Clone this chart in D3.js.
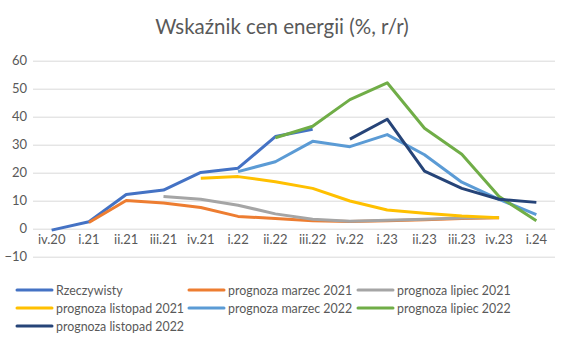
<!DOCTYPE html>
<html><head><meta charset="utf-8">
<script src="https://cdn.jsdelivr.net/npm/d3@7"></script>
<style>body{margin:0;background:#fff}svg{display:block}</style>
</head><body>
<svg id="c" width="564" height="337"></svg>
<script>
const categories = ["iv.20","i.21","ii.21","iii.21","iv.21","i.22","ii.22","iii.22","iv.22","i.23","ii.23","iii.23","iv.23","i.24"];
const yTicks = [-10,0,10,20,30,40,50,60];
const seriesNames = ["Rzeczywisty","prognoza marzec 2021","prognoza lipiec 2021","prognoza listopad 2021","prognoza marzec 2022","prognoza lipiec 2022","prognoza listopad 2022"];
const seriesColors = ["#4472C4","#ED7D31","#A5A5A5","#FFC000","#5B9BD5","#70AD47","#264478"];
const rzeczywisty   = [-0.5,2.5,12.2,13.8,20.1,21.6,32.9,35.5,null,null,null,null,null,null];
const marzec2021    = [null,2.2,10.1,9.2,7.6,4.4,3.6,2.8,2.6,2.8,3.2,3.6,3.9,null];
const lipiec2021    = [null,null,null,11.5,10.5,8.4,5.3,3.4,2.7,3.0,3.4,3.8,4.0,null];
const listopad2021  = [null,null,null,null,18.0,18.6,16.8,14.4,9.9,6.7,5.5,4.5,3.9,null];
const marzec2022    = [null,null,null,null,null,20.4,23.9,31.2,29.3,33.6,26.4,16.6,10.5,5.0];
const lipiec2022    = [null,null,null,null,null,null,32.5,36.6,46.1,52.1,35.9,26.6,11.5,2.8];
const listopad2022  = [null,null,null,null,null,null,null,null,32.0,39.1,20.6,14.4,10.5,9.4];
const seriesValues = [rzeczywisty,marzec2021,lipiec2021,listopad2021,marzec2022,lipiec2022,listopad2022];

const svg = d3.select("#c");
const font = "Lato, 'Open Sans', sans-serif";
const x = d3.scaleBand().domain(categories).range([33,555]);
const y = d3.scaleLinear().domain([-10,60]).range([256.7,60.7]);

svg.append("text").attr("x",282).attr("y",34).attr("text-anchor","middle")
  .attr("font-family",font).attr("font-size",20.5).attr("fill","#595959")
  .text("Wskaźnik cen energii (%, r/r)");

const yAxis = svg.append("g").attr("transform","translate(33,0)")
  .call(d3.axisLeft(y).tickValues(yTicks).tickSize(-522).tickFormat(d3.format("d")));
yAxis.select(".domain").remove();
yAxis.selectAll("line").attr("stroke","#D9D9D9").attr("stroke-width",1);
yAxis.selectAll("text").attr("x",-6).attr("fill","#595959").attr("font-family",font).attr("font-size",13);

const xAxis = svg.append("g").attr("transform",`translate(0,${y(0)})`)
  .call(d3.axisBottom(x).tickSize(0).tickPadding(6));
xAxis.select(".domain").remove();
xAxis.selectAll("text").attr("fill","#595959").attr("font-family",font).attr("font-size",13);

const line = d3.line().defined(d=>d.v!=null)
  .x(d=>x(d.c)+x.bandwidth()/2).y(d=>y(d.v));
seriesValues.forEach((vals,i)=>{
  const pts = categories.map((c,j)=>({c, v: vals[j]}));
  svg.append("path").datum(pts).attr("d",line).attr("fill","none")
    .attr("stroke",seriesColors[i]).attr("stroke-width",3)
    .attr("stroke-linejoin","round").attr("stroke-linecap","butt");
});

const colX = [17,189,358];
const rowY = [290,308,326];
seriesNames.forEach((n,i)=>{
  const cx = colX[i%3], cy = rowY[Math.floor(i/3)];
  const g = svg.append("g");
  g.append("line").attr("x1",cx).attr("x2",cx+35).attr("y1",cy).attr("y2",cy)
    .attr("stroke",seriesColors[i]).attr("stroke-width",3).attr("stroke-linecap","round");
  g.append("text").attr("x",cx+39).attr("y",cy+4.5).attr("font-family",font)
    .attr("font-size",12.4).attr("fill","#595959").text(n);
});
</script>
</body></html>
